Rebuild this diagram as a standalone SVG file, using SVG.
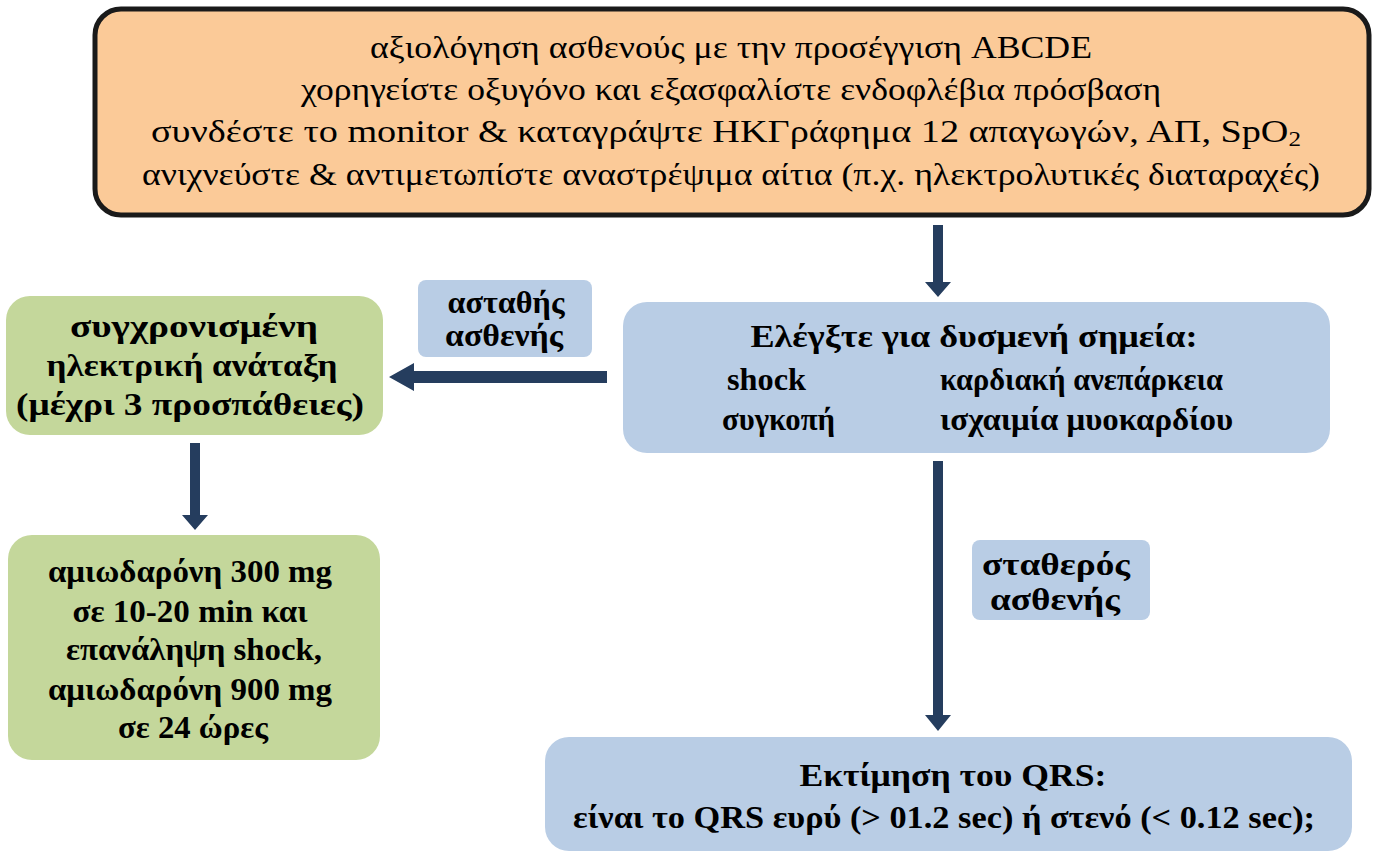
<svg xmlns="http://www.w3.org/2000/svg" width="1380" height="857" viewBox="0 0 1380 857">
<style>
.t{font-family:"Liberation Serif","Times New Roman",serif;font-size:32px;fill:#000;text-anchor:middle}
.b{font-weight:bold;font-size:31px}
.s{text-anchor:start}
.blue{fill:#B9CDE5}
.green{fill:#C4D79B}
.arr{fill:#253D5E}
</style>
<rect width="1380" height="857" fill="#fff"/>
<g id="node-abcde">
<rect x="95" y="9" width="1274" height="206" rx="26" fill="#FBCA98" stroke="#1a1a1a" stroke-width="5"/>
<text class="t" x="731" y="58" textLength="722" lengthAdjust="spacingAndGlyphs">αξιολόγηση ασθενούς με την προσέγγιση ABCDE</text>
<text class="t" x="731" y="100" textLength="860" lengthAdjust="spacingAndGlyphs">χορηγείστε οξυγόνο και εξασφαλίστε ενδοφλέβια πρόσβαση</text>
<text class="t" x="726" y="142" textLength="1150" lengthAdjust="spacingAndGlyphs">συνδέστε το monitor &amp; καταγράψτε ΗΚΓράφημα 12 απαγωγών, ΑΠ, SpO<tspan font-size="21" dy="4">2</tspan></text>
<text class="t" x="731" y="185" textLength="1178" lengthAdjust="spacingAndGlyphs">ανιχνεύστε &amp; αντιμετωπίστε αναστρέψιμα αίτια (π.χ. ηλεκτρολυτικές διαταραχές)</text>
</g>
<g id="node-check">
<rect class="blue" x="623" y="302" width="707" height="151" rx="24"/>
<text class="t b" x="974" y="347" textLength="447" lengthAdjust="spacingAndGlyphs">Ελέγξτε  για δυσμενή σημεία:</text>
<text class="t b s" x="727" y="390" textLength="79" lengthAdjust="spacingAndGlyphs">shock</text>
<text class="t b s" x="940" y="390" textLength="283" lengthAdjust="spacingAndGlyphs">καρδιακή ανεπάρκεια</text>
<text class="t b s" x="722" y="430" textLength="113" lengthAdjust="spacingAndGlyphs">συγκοπή</text>
<text class="t b s" x="940" y="430" textLength="293" lengthAdjust="spacingAndGlyphs">ισχαιμία μυοκαρδίου</text>
</g>
<g id="node-cardioversion">
<rect class="green" x="6" y="296" width="377" height="139" rx="24"/>
<text class="t b" x="194" y="337" textLength="248" lengthAdjust="spacingAndGlyphs">συγχρονισμένη</text>
<text class="t b" x="192" y="376" textLength="291" lengthAdjust="spacingAndGlyphs">ηλεκτρική ανάταξη</text>
<text class="t b" x="190" y="415" textLength="348" lengthAdjust="spacingAndGlyphs">(μέχρι 3 προσπάθειες)</text>
</g>
<g id="node-amiodarone">
<rect class="green" x="8" y="535" width="372" height="225" rx="24"/>
<text class="t b" x="190" y="582" textLength="284" lengthAdjust="spacingAndGlyphs">αμιωδαρόνη 300 mg</text>
<text class="t b" x="190" y="622" textLength="235" lengthAdjust="spacingAndGlyphs">σε 10-20 min και</text>
<text class="t b" x="194" y="660" textLength="256" lengthAdjust="spacingAndGlyphs">επανάληψη shock,</text>
<text class="t b" x="190" y="700" textLength="284" lengthAdjust="spacingAndGlyphs">αμιωδαρόνη 900 mg</text>
<text class="t b" x="193" y="738" textLength="150" lengthAdjust="spacingAndGlyphs">σε 24 ώρες</text>
</g>
<g id="node-qrs">
<rect class="blue" x="545" y="737" width="807" height="114" rx="24"/>
<text class="t b" x="953" y="786" textLength="307" lengthAdjust="spacingAndGlyphs">Εκτίμηση του QRS:</text>
<text class="t b" x="944" y="828" textLength="742" lengthAdjust="spacingAndGlyphs">είναι το QRS ευρύ (&gt; 01.2 sec) ή στενό (&lt; 0.12 sec);</text>
</g>
<g id="label-unstable">
<rect class="blue" x="418" y="280" width="174" height="77" rx="8"/>
<text class="t b" x="506" y="313" textLength="117" lengthAdjust="spacingAndGlyphs">ασταθής</text>
<text class="t b" x="504" y="346" textLength="118" lengthAdjust="spacingAndGlyphs">ασθενής</text>
</g>
<g id="label-stable">
<rect class="blue" x="972" y="540" width="178" height="80" rx="8"/>
<text class="t b" x="1056" y="575" textLength="148" lengthAdjust="spacingAndGlyphs">σταθερός</text>
<text class="t b" x="1055" y="610" textLength="130" lengthAdjust="spacingAndGlyphs">ασθενής</text>
</g>
<g id="connectors">
<polygon class="arr" points="933,225 943,225 943,282 951,282 938,297 925,282 933,282"/>
<polygon class="arr" points="607,371 607,383 414,383 414,391 389,377 414,363 414,371"/>
<polygon class="arr" points="190,443 200,443 200,515 208,515 195,530 182,515 190,515"/>
<polygon class="arr" points="933,461 943,461 943,715 951,715 938,731 925,715 933,715"/>
</g>
</svg>
